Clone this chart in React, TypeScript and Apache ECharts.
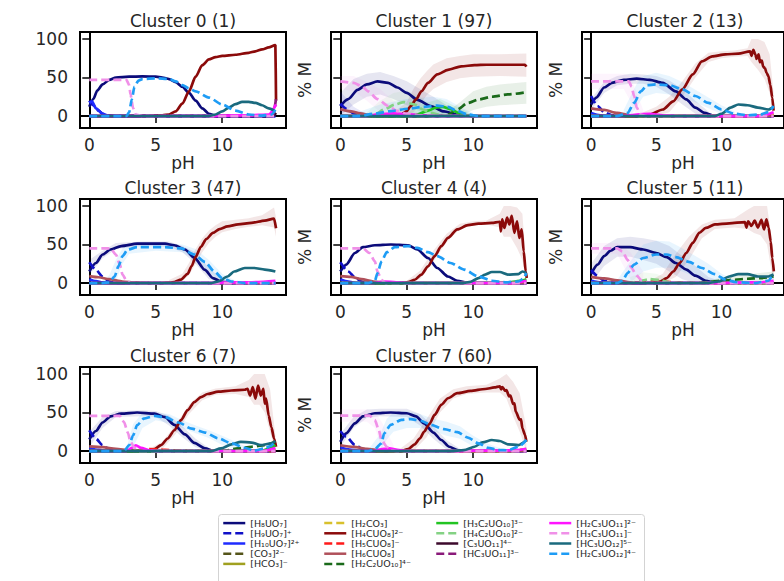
import { useEffect, useRef } from 'react';
import * as echarts from 'echarts';

type P = [number, number];
type B = [number, number, number];

// ---------- axis ticks ----------
const X_TICKS = [0, 5, 10];
const Y_TICKS = [0, 50, 100];

// ---------- species ----------
const SPECIES_KEYS = ['H8UO7', 'H9UO7', 'H10UO7', 'CO3', 'HCO3', 'H2CO3', 'H4CUO8', 'H5CUO8', 'H6CUO8', 'H2C2UO10', 'H3C2UO10', 'H4C2UO10', 'C3UO11', 'HC3UO11', 'H2C3UO11', 'H3C3UO11', 'HC3UO12', 'H2C3UO12'];
const SPECIES_NAMES = ['[H₈UO₇]', '[H₉UO₇]⁺', '[H₁₀UO₇]²⁺', '[CO₃]²⁻', '[HCO₃]⁻', '[H₂CO₃]', '[H₄CUO₈]²⁻', '[H₅CUO₈]⁻', '[H₆CUO₈]', '[H₂C₂UO₁₀]⁴⁻', '[H₃C₂UO₁₀]³⁻', '[H₄C₂UO₁₀]²⁻', '[C₃UO₁₁]⁴⁻', '[HC₃UO₁₁]³⁻', '[H₂C₃UO₁₁]²⁻', '[H₃C₃UO₁₁]⁻', '[HC₃UO₁₂]⁵⁻', '[H₂C₃UO₁₂]⁴⁻'];
const SPECIES_COLORS = ['#0b0b7a', '#1010c8', '#1f2bff', '#55551a', '#a0a020', '#d8c02c', '#8b0a0a', '#ff1a1a', '#b0505a', '#1a6a1a', '#22c422', '#84d284', '#3c0a2c', '#8a1a7a', '#ff14ff', '#f090e8', '#1a6a7e', '#1e9cf5'];
const SPECIES_DASHED = [false, true, false, true, false, true, false, true, false, true, false, true, false, true, false, true, false, true];

// ---------- Cluster 0 (1) ----------
const C0_H8UO7: P[] = [[0, 12], [0.3, 22], [0.6, 33], [1, 41], [1.5, 47], [2, 50], [3, 51], [4, 51.5], [5, 51], [5.5, 50], [6, 48], [6.5, 44], [7, 38], [7.5, 30], [8, 20], [8.5, 10], [9, 3], [9.5, 0.5], [10, 0], [14, 0]];
const C0_H9UO7: P[] = [[0, 20], [0.3, 14], [0.7, 7], [1, 3], [1.5, 0.5], [2, 0], [14, 0]];
const C0_H10UO7: P[] = [[0, 17], [0.2, 19], [0.5, 10], [1, 3], [1.5, 0], [14, 0]];
const C0_H4CUO8: P[] = [[0, 0], [4.5, 0], [5.5, 1], [6, 2], [6.5, 6], [7, 16], [7.5, 32], [8, 51], [8.5, 66], [9, 73.5], [9.5, 76.5], [10, 78], [11, 79.5], [12, 82], [12.5, 84], [13, 86.5], [13.5, 89], [14, 92], [14.05, 20]];
const C0_C3UO11: P[] = [[0, 0], [13.8, 0], [14.05, 4]];
const C0_HC3UO11: P[] = [[0, 0], [13.8, 0.5], [14.05, 22]];
const C0_H2C3UO11: P[] = [[0, 0], [9, 0], [10, 0.5], [12, 1], [13.5, 2], [14.05, 15]];
const C0_H3C3UO11: P[] = [[0, 47], [2.8, 47], [3, 40], [3.1, 28], [3.3, 10], [3.5, 2], [4, 0], [14, 0]];
const C0_HC3UO12: P[] = [[0, 0], [9, 0], [9.5, 2], [10, 6], [10.5, 11], [11, 15.5], [11.5, 18.5], [12, 18.5], [12.5, 17], [13, 14], [13.5, 10], [14, 6]];
const C0_H2C3UO12: P[] = [[0, 0], [2.8, 0], [3.0, 5], [3.2, 22], [3.4, 38], [3.7, 46], [4, 48], [5, 49], [6, 48], [6.5, 45], [7, 40], [7.5, 36], [8, 32], [9, 24], [10, 15], [11, 7], [12, 2], [13, 0.5], [13.7, 2], [14, 8]];

// ---------- Cluster 1 (97) ----------
const C1_H8UO7: P[] = [[0, 13], [0.6, 22], [1.3, 34], [2, 41], [2.8, 45], [3.6, 43], [4.3, 37], [5, 30], [5.8, 21], [6.8, 13], [7.8, 6], [8.8, 2], [10, 0], [14, 0]];
const C1_H9UO7: P[] = [[0, 16], [0.5, 9], [1, 3.5], [1.5, 1], [2, 0], [14, 0]];
const C1_H4CUO8: P[] = [[0, 0], [4, 0], [4.6, 2], [5, 6.5], [5.3, 13], [5.7, 21.5], [6.1, 32], [6.6, 43], [7.3, 54], [8.1, 60], [9.1, 64.5], [10.1, 66], [11, 66.5], [12, 66.5], [13, 66.5], [13.9, 66.5], [14, 64]];
const C1_H6CUO8: P[] = [[0, 9], [0.8, 6], [1.5, 3.5], [2.3, 1], [3, 0], [14, 0]];
const C1_H2C2UO10: P[] = [[0, 0], [7.5, 0], [8.1, 2], [8.8, 8.5], [9.6, 17], [10.4, 21.5], [11.4, 25], [12.6, 28], [14, 31]];
const C1_H3C2UO10: P[] = [[0, 0], [5, 0], [5.8, 2], [6.6, 7], [7.2, 11], [7.7, 12], [8.3, 9], [8.9, 4], [9.5, 1], [10.3, 0], [14, 0]];
const C1_H4C2UO10: P[] = [[0, 0], [2, 0], [2.6, 2], [3.3, 8.5], [4.1, 15], [4.8, 18], [5.6, 15], [6.2, 8.5], [6.8, 4], [7.6, 1], [8.5, 0], [14, 0]];
const C1_H2C3UO11: P[] = [[0, 0], [2, 0], [3, 2.5], [4, 3.5], [5, 2.5], [6, 1], [7, 0], [14, 0]];
const C1_H3C3UO11: P[] = [[0, 45], [1, 43], [1.6, 39], [2.1, 32], [2.8, 22], [3.6, 13], [4.3, 6.5], [5, 3], [6, 1], [7, 0], [14, 0]];
const C1_HC3UO12: P[] = [[0, 0], [14, 0]];
const C1_H2C3UO12: P[] = [[0, 0], [1.3, 0], [2.6, 3], [3.8, 6.5], [5.1, 9.5], [6.3, 12], [7.3, 13.5], [8.1, 12], [8.8, 6.5], [9.6, 2], [10.4, 0], [14, 0]];
const C1_BAND_H4CUO8: B[] = [[0, 0, 2], [4, 0, 5], [5, 0, 18], [5.5, 5, 35], [6, 15, 48], [6.5, 27, 58], [7, 35, 67], [8, 44, 75], [9, 49, 78], [10, 51, 80], [12, 52, 80], [14, 51, 81]];
const C1_BAND_H8UO7: B[] = [[0, 0, 30], [1, 15, 48], [2, 25, 55], [3, 28, 57], [4, 22, 52], [5, 14, 45], [6, 6, 35], [7, 2, 25], [8, 0, 14], [9, 0, 6], [10, 0, 2]];
const C1_BAND_H9UO7: B[] = [[0, 0, 32], [1, 0, 12], [2, 0, 2]];
const C1_BAND_H3C3UO11: B[] = [[0, 35, 52], [1, 32, 52], [2, 20, 44], [3, 5, 35], [4, 0, 20], [5, 0, 10], [6, 0, 4]];
const C1_BAND_H4C2UO10: B[] = [[2, 0, 5], [3, 0, 20], [4, 3, 30], [5, 5, 33], [6, 0, 25], [7, 0, 12], [8, 0, 4]];
const C1_BAND_H2C2UO10: B[] = [[8, 0, 5], [9, 0, 18], [10, 8, 32], [11, 12, 38], [12, 14, 41], [14, 16, 44]];
const C1_BAND_H2C3UO12: B[] = [[1, 0, 3], [3, 0, 15], [5, 0, 22], [7, 2, 25], [8, 2, 22], [9, 0, 12], [10, 0, 4]];
const C1_BAND_H3C2UO10: B[] = [[5, 0, 4], [6, 0, 15], [7.5, 2, 22], [9, 0, 10], [10, 0, 2]];

// ---------- Cluster 2 (13) ----------
const C2_H8UO7: P[] = [[0, 15], [0.4, 24], [1, 37], [1.6, 43], [2.5, 47], [3.5, 48.5], [4.5, 47], [5.5, 43], [6.5, 32], [7.3, 21.5], [8, 11], [8.7, 4], [9.3, 1], [10, 0], [14, 0]];
const C2_H9UO7: P[] = [[0, 26], [0.5, 13], [1, 5], [1.6, 1], [2.2, 0], [14, 0]];
const C2_H10UO7: P[] = [[0, 4], [0.7, 1], [1.5, 0], [14, 0]];
const C2_CO3: P[] = [[0, 0], [13.5, 0], [14, 1]];
const C2_HCO3: P[] = [[0, 0], [13, 0], [14, 1.5]];
const C2_H2CO3: P[] = [[0, 0], [12.5, 0], [13.5, 1], [14, 2]];
const C2_H4CUO8: P[] = [[0, 0], [3.5, 0], [4.5, 2], [5.5, 8.5], [6.3, 19], [7, 34.5], [7.8, 54], [8.5, 71], [9.3, 77.5], [10.3, 80], [11.3, 81], [12.2, 84], [12.3, 78], [12.45, 86], [12.6, 80], [12.7, 74], [12.85, 80], [12.95, 70], [13.1, 72], [13.2, 64], [13.35, 62], [13.45, 56], [13.6, 52], [13.75, 40], [13.9, 24], [14, 7]];
const C2_H6CUO8: P[] = [[0, 10], [1, 8], [2, 4], [3, 1], [4, 0], [14, 0]];
const C2_H2C3UO11: P[] = [[0, 0], [2.5, 0], [3.5, 2], [4.5, 3], [5.5, 1], [6.5, 0], [13, 0], [14, 5]];
const C2_H3C3UO11: P[] = [[0, 45], [2.9, 45], [3.1, 38], [3.3, 26], [3.5, 11], [3.8, 2], [4.2, 0], [14, 0]];
const C2_HC3UO12: P[] = [[0, 0], [9.5, 0], [10, 3], [10.7, 11], [11.3, 15], [12, 14], [12.8, 11], [13.6, 8.5], [14, 12]];
const C2_H2C3UO12: P[] = [[0, 0], [2, 0], [2.8, 4], [3.3, 17], [3.8, 32], [4.3, 40], [5, 41], [6, 40], [7, 34.5], [8, 26], [9, 17], [10, 8.5], [11, 3], [12, 1], [13, 2], [13.6, 5], [14, 13]];
const C2_BAND_H4CUO8: B[] = [[4, 0, 5], [5, 0, 12], [6, 5, 25], [7, 25, 45], [8, 50, 68], [9, 70, 82], [10, 75, 84], [11, 77, 85], [12, 78, 88], [12.3, 70, 100], [12.8, 60, 100], [13.3, 48, 96], [13.7, 30, 80], [14, 0, 30]];
const C2_BAND_H8UO7: B[] = [[0, 8, 22], [1, 30, 44], [2, 40, 52], [3, 42, 55], [4, 42, 54], [5, 38, 52], [6, 28, 46], [7, 15, 35], [8, 3, 20], [9, 0, 6]];
const C2_BAND_H2C3UO12: B[] = [[2.5, 0, 8], [3, 0, 25], [3.5, 12, 42], [4, 25, 52], [5, 30, 56], [6, 28, 52], [7, 24, 44], [8, 18, 34], [9, 10, 24], [10, 3, 14], [11, 0, 6]];
const C2_BAND_H3C3UO11: B[] = [[0, 35, 55], [2.5, 35, 55], [3, 20, 52], [3.5, 0, 30], [4, 0, 8]];

// ---------- Cluster 3 (47) ----------
const C3_H8UO7: P[] = [[0, 15], [0.5, 26], [1, 37], [1.6, 43.5], [2.4, 48], [3.6, 51], [5.7, 51], [6.4, 49], [7.2, 43.5], [7.9, 33], [8.7, 17], [9.3, 6.5], [9.9, 2], [10.7, 0], [14, 0]];
const C3_H9UO7: P[] = [[0, 27], [0.5, 17], [1, 8.5], [1.5, 2], [1.9, 0], [14, 0]];
const C3_H10UO7: P[] = [[0, 5], [0.5, 2.5], [1, 1], [1.6, 0], [14, 0]];
const C3_H4CUO8: P[] = [[0, 0], [5.5, 0], [6.4, 1.3], [6.9, 4.5], [7.4, 12], [7.7, 22], [8, 34], [8.4, 47], [8.8, 57], [9.3, 65], [9.8, 70], [10.4, 73.5], [11.2, 76], [12.2, 78], [13.2, 81], [13.9, 83.5], [14.05, 71]];
const C3_H6CUO8: P[] = [[0, 9], [0.7, 7.5], [1.5, 5], [2.5, 2], [3.5, 0.5], [4.5, 0], [14, 0]];
const C3_H2C3UO11: P[] = [[0, 0], [9, 0], [10, 0.5], [12, 1], [14, 3]];
const C3_H3C3UO11: P[] = [[0, 45], [1.6, 45], [2, 37], [2.3, 24], [2.5, 11], [2.8, 3], [3.1, 0], [14, 0]];
const C3_HC3UO12: P[] = [[0, 0], [9.2, 0], [9.7, 2], [10.4, 8.5], [10.9, 15], [11.7, 19.5], [12.4, 19.5], [13.2, 17.5], [14, 15]];
const C3_H2C3UO12: P[] = [[0, 0], [1, 0], [1.5, 1], [1.9, 8.5], [2.2, 22], [2.5, 35], [2.9, 43.5], [3.6, 46.5], [5.7, 46.5], [6.9, 45], [7.9, 37], [8.7, 27.5], [9.4, 15], [10, 6.5], [10.7, 2], [11.7, 0], [14, 0]];
const C3_BAND_H4CUO8: B[] = [[6, 0, 4], [7, 3, 12], [7.5, 10, 26], [8, 25, 44], [8.5, 40, 58], [9, 52, 68], [9.5, 60, 75], [10, 66, 80], [11, 70, 82], [12, 73, 84], [13, 75, 88], [13.9, 72, 98], [14.05, 60, 85]];
const C3_BAND_H8UO7: B[] = [[0, 10, 30], [1, 32, 42], [2, 44, 52], [4, 48, 54], [6, 47, 54], [7, 40, 48], [8, 25, 40], [9, 5, 20], [10, 0, 5]];
const C3_BAND_H2C3UO12: B[] = [[1, 0, 3], [1.5, 0, 10], [2, 2, 30], [2.5, 25, 45], [3, 38, 50], [5, 42, 51], [7, 40, 50], [8, 30, 44], [9, 14, 30], [10, 2, 12], [11, 0, 3]];

// ---------- Cluster 4 (4) ----------
const C4_H8UO7: P[] = [[0, 15], [0.45, 24], [1.1, 39], [1.7, 46.5], [2.6, 49], [3.8, 50], [5.1, 49], [5.8, 43.5], [6.6, 32.5], [7.3, 19.5], [8.1, 8.5], [8.8, 3], [9.6, 0], [14, 0]];
const C4_H9UO7: P[] = [[0, 27], [0.6, 15], [1.1, 7.5], [1.6, 2], [2.1, 0], [14, 0]];
const C4_H10UO7: P[] = [[0, 5], [0.6, 2], [1.2, 0], [14, 0]];
const C4_H2CO3: P[] = [[0, 0], [13, 0], [14, 2]];
const C4_H4CUO8: P[] = [[0, 0], [4.6, 0], [5.1, 1.3], [5.6, 4.3], [6.1, 11], [6.6, 21.5], [7.1, 35], [7.6, 48], [8.1, 58.5], [8.8, 69.5], [9.6, 75], [10.4, 77], [11.4, 78], [12, 79.5], [12.08, 67], [12.18, 82.5], [12.35, 71.5], [12.55, 85], [12.72, 76], [12.9, 87], [13.1, 65], [13.3, 80], [13.47, 58.5], [13.65, 69.5], [13.8, 41], [13.95, 15], [14.03, 6.5]];
const C4_H6CUO8: P[] = [[0, 9], [0.8, 8], [1.6, 5], [2.5, 2], [3.5, 0.5], [4.5, 0], [14, 0]];
const C4_H3C2UO10: P[] = [[0, 0], [12.5, 0], [13.5, 3], [14, 5]];
const C4_H2C3UO11: P[] = [[0, 0], [2.5, 0], [3.3, 2], [4.2, 1], [5, 0], [13, 0], [14, 3]];
const C4_H3C3UO11: P[] = [[0, 45], [1.7, 45], [2.2, 39], [2.6, 28], [2.8, 15], [3.1, 4], [3.4, 0], [14, 0]];
const C4_HC3UO12: P[] = [[0, 0], [9.2, 0], [9.8, 1.5], [10.4, 6.5], [10.9, 11], [11.4, 14.3], [12, 14.3], [12.6, 11], [13.4, 11.7], [13.7, 15], [14, 13]];
const C4_H2C3UO12: P[] = [[0, 0], [2.1, 0], [2.6, 3], [2.8, 13], [3.1, 28], [3.5, 40], [4.1, 46.5], [5.1, 48], [5.8, 45.5], [6.6, 40], [7.3, 35], [8.3, 26], [9.3, 17.5], [10.4, 8.5], [11.4, 3], [12.4, 1], [13.4, 2], [13.8, 6], [14, 13]];
const C4_BAND_H4CUO8: B[] = [[5, 0, 3], [6, 5, 16], [7, 28, 42], [8, 53, 64], [9, 70, 77], [10, 75, 80], [11, 76, 81], [12, 72, 90], [12.3, 60, 100], [12.8, 60, 100], [13.3, 45, 98], [13.7, 30, 90], [14, 0, 20]];

// ---------- Cluster 5 (11) ----------
const C5_H8UO7: P[] = [[0, 12], [0.5, 24], [1, 35], [1.5, 42], [2, 46.5], [3, 46.5], [4, 43.5], [5, 39], [5.8, 33.5], [6.5, 26], [7.3, 17.5], [8, 9.5], [8.8, 3], [9.5, 0], [14, 0]];
const C5_H9UO7: P[] = [[0, 17], [0.5, 9], [1, 3], [1.5, 0.5], [2, 0], [14, 0]];
const C5_H10UO7: P[] = [[0, 3], [0.8, 1], [1.5, 0], [14, 0]];
const C5_H4CUO8: P[] = [[0, 0], [4.5, 0], [5.3, 2], [5.8, 6.5], [6.3, 15], [6.8, 26], [7.3, 39], [7.8, 52], [8.3, 65], [8.8, 71.5], [9.5, 76], [10.6, 77.5], [11.8, 79], [11.92, 72], [12.05, 80], [12.3, 74], [12.55, 81], [12.8, 72], [13.07, 82], [13.27, 69.5], [13.45, 82.5], [13.62, 72], [13.78, 54], [13.9, 32.5], [14.02, 15]];
const C5_H5CUO8: P[] = [[0, 0], [3.5, 0], [4.3, 2.5], [5, 3], [5.7, 2], [6.5, 0.5], [7.5, 0], [14, 0]];
const C5_H6CUO8: P[] = [[0, 8], [1, 6], [2, 3.5], [3, 1], [4, 0], [14, 0]];
const C5_H2C2UO10: P[] = [[0, 0], [8, 0], [9, 1.3], [10, 3], [11, 4.3], [12, 5.6], [13, 6.5], [14, 8.5]];
const C5_H4C2UO10: P[] = [[0, 0], [3, 0], [3.8, 3], [4.5, 5], [5.2, 4], [6, 1], [6.8, 0], [14, 0]];
const C5_H2C3UO11: P[] = [[0, 0], [10, 0], [11, 0.5], [13, 1], [14, 3]];
const C5_H3C3UO11: P[] = [[0, 45], [2, 45], [2.4, 41], [2.8, 30], [3.1, 19.5], [3.5, 9.5], [3.9, 3], [4.3, 0], [14, 0]];
const C5_HC3UO12: P[] = [[0, 0], [9, 0], [9.8, 2], [10.6, 8.5], [11.3, 11.5], [12, 11.5], [12.8, 8.5], [13.6, 8.5], [14, 11]];
const C5_H2C3UO12: P[] = [[0, 0], [2, 0], [2.4, 3], [2.8, 13], [3.3, 24], [4, 32.5], [5, 37], [5.8, 37], [6.5, 33.5], [7.5, 27.5], [8.5, 19.5], [9.5, 11.5], [10.3, 4.3], [11.1, 1.3], [12.6, 0], [13.6, 3], [14, 13]];
const C5_BAND_H8UO7: B[] = [[0, 0, 25], [1, 22, 48], [2, 34, 58], [3, 34, 60], [4, 30, 58], [5, 25, 55], [6, 15, 48], [7, 5, 35], [8, 0, 22], [9, 0, 8], [10, 0, 2]];
const C5_BAND_H2C3UO12: B[] = [[2, 0, 4], [3, 0, 28], [4, 15, 50], [5, 20, 55], [6, 20, 54], [7, 15, 45], [8, 8, 35], [9, 0, 25], [10, 0, 12], [11, 0, 4]];
const C5_BAND_H4CUO8: B[] = [[4.5, 0, 3], [5.5, 0, 12], [6.5, 8, 38], [7.5, 30, 60], [8.5, 58, 76], [9.5, 70, 82], [11, 72, 84], [12, 70, 95], [12.5, 65, 100], [13, 62, 100], [13.5, 50, 100], [14, 0, 40]];
const C5_BAND_H3C3UO11: B[] = [[0, 38, 52], [2, 38, 52], [3, 5, 40], [4, 0, 15]];
const C5_BAND_H4C2UO10: B[] = [[3, 0, 8], [4, 0, 14], [5, 0, 12], [6, 0, 5]];
const C5_BAND_H2C2UO10: B[] = [[9, 0, 4], [11, 0, 9], [14, 0, 15]];

// ---------- Cluster 6 (7) ----------
const C6_H8UO7: P[] = [[0, 15], [0.5, 26], [1, 37], [1.6, 45], [2.4, 48.5], [3.6, 50], [4.9, 48.5], [5.7, 44], [6.4, 34], [7.2, 21.5], [7.9, 10.5], [8.7, 3.5], [9.4, 0], [14, 0]];
const C6_H9UO7: P[] = [[0, 27], [0.5, 16], [1, 7.5], [1.5, 2.5], [2, 0], [14, 0]];
const C6_H10UO7: P[] = [[0, 4], [0.7, 1.5], [1.5, 0], [14, 0]];
const C6_H2CO3: P[] = [[0, 0], [12.5, 0], [13.5, 1.5], [14, 3]];
const C6_H4CUO8: P[] = [[0, 0], [4.4, 0], [4.9, 2.6], [5.4, 7.7], [5.9, 16.3], [6.4, 27], [6.9, 40], [7.4, 53], [7.9, 63.5], [8.4, 70], [8.9, 74], [9.7, 77], [10.7, 78.5], [11.7, 79.5], [11.9, 80.7], [12.1, 72], [12.3, 83], [12.5, 68], [12.7, 85], [12.9, 72], [13.1, 80.7], [13.2, 61.5], [13.3, 68], [13.5, 46], [13.7, 31], [13.9, 16.3], [14.05, 5.6]];
const C6_H5CUO8: P[] = [[0, 0], [3.5, 0], [4.5, 2.5], [5.5, 2], [6.5, 0.5], [7.5, 0], [14, 0]];
const C6_H6CUO8: P[] = [[0, 6], [1, 5], [2, 3], [3, 1], [4, 0], [14, 0]];
const C6_H2C2UO10: P[] = [[0, 0], [10, 0], [11.2, 3.4], [12.2, 5.6], [13.2, 7.7], [14, 12]];
const C6_H3C2UO10: P[] = [[0, 0], [13, 0], [13.6, 4], [14, 8]];
const C6_H2C3UO11: P[] = [[0, 0], [2.8, 0], [3.2, 4], [3.5, 7.5], [3.9, 4], [4.5, 1], [5, 0], [13, 0], [14, 4]];
const C6_H3C3UO11: P[] = [[0, 45.5], [2.3, 45.5], [2.6, 38], [2.9, 24], [3.1, 12], [3.4, 4.3], [3.7, 0], [14, 0]];
const C6_HC3UO12: P[] = [[0, 0], [9.2, 0], [9.9, 3.4], [10.7, 8.6], [11.4, 12], [12.2, 11], [12.9, 7.7], [13.7, 10], [14, 13]];
const C6_H2C3UO12: P[] = [[0, 0], [2.6, 0], [3, 7.5], [3.3, 20.5], [3.6, 33.5], [4.1, 42], [4.9, 45.5], [5.7, 44], [6.7, 37], [7.7, 29], [8.7, 24], [9.7, 16.5], [10.7, 10], [11.7, 4.3], [12.4, 0.5], [13.2, 3.4], [13.7, 7], [14, 14]];
const C6_BAND_H4CUO8: B[] = [[4.5, 0, 3], [5.5, 3, 12], [6.5, 22, 34], [7.5, 48, 60], [8.5, 66, 76], [9.5, 73, 81], [11, 74, 84], [12, 70, 92], [12.4, 60, 100], [12.8, 60, 100], [13.2, 50, 100], [13.6, 25, 80], [14, 0, 20]];
const C6_BAND_H8UO7: B[] = [[0, 5, 25], [1, 30, 44], [2, 44, 52], [4, 45, 53], [5, 44, 52], [6, 33, 46], [7, 18, 32], [8, 5, 16], [9, 0, 4]];
const C6_BAND_H2C3UO12: B[] = [[2.8, 0, 4], [3.3, 5, 35], [4, 30, 50], [5, 40, 50], [6, 36, 48], [7, 30, 40], [8, 23, 33], [9, 17, 27], [10, 8, 20], [11, 3, 12], [12, 0, 4]];

// ---------- Cluster 7 (60) ----------
const C7_H8UO7: P[] = [[0, 12], [0.45, 23], [1.1, 36], [1.7, 45], [2.6, 49], [3.8, 50], [5, 49], [5.7, 45], [6.3, 36], [7, 24], [7.6, 14.3], [8.2, 5.6], [8.8, 1.3], [9.3, 0], [14, 0]];
const C7_H9UO7: P[] = [[0, 26], [0.45, 18.5], [1.1, 8], [1.7, 2.5], [2.2, 0], [14, 0]];
const C7_H10UO7: P[] = [[0, 5], [0.7, 2], [1.5, 0.5], [2.5, 0], [14, 0]];
const C7_HCO3: P[] = [[0, 0], [13, 0], [14, 1]];
const C7_H2CO3: P[] = [[0, 0], [12.5, 0], [13.3, 1.5], [14, 2.5]];
const C7_H4CUO8: P[] = [[0, 0], [4.6, 0], [5.1, 2.5], [5.6, 8.7], [6, 16.5], [6.3, 25], [6.7, 35], [7.1, 47], [7.6, 60], [8.1, 68.5], [8.8, 75], [9.8, 78], [10.9, 80.5], [11.6, 82.5], [12, 84], [12.1, 80], [12.2, 83], [12.4, 78], [12.5, 79], [12.7, 71], [12.8, 72], [13, 61], [13.1, 62], [13.2, 51], [13.5, 40.5], [13.6, 41], [13.7, 29.5], [13.9, 21], [14, 12]];
const C7_H6CUO8: P[] = [[0, 7.5], [1, 5.5], [2, 3], [3, 1], [4, 0], [14, 0]];
const C7_H2C3UO11: P[] = [[0, 0], [2.5, 0], [3.3, 3], [3.7, 3.5], [4.3, 1.5], [5, 0], [9, 0], [10, 0.5], [12, 0.5], [13, 1], [14, 3]];
const C7_H3C3UO11: P[] = [[0, 46], [2.2, 46], [2.6, 40], [2.9, 27], [3.1, 14.3], [3.5, 5.6], [3.8, 1], [4.2, 0], [14, 0]];
const C7_HC3UO12: P[] = [[0, 0], [8.3, 0], [9.3, 1.3], [10.1, 5.6], [10.7, 11.3], [11.4, 14.3], [12, 13], [12.6, 8.7], [13.4, 7.8], [14, 14]];
const C7_H2C3UO12: P[] = [[0, 0], [2.1, 0], [2.6, 2.5], [3.1, 10], [3.3, 23], [3.8, 34], [4.6, 40.5], [5.3, 41.5], [6.1, 39], [6.8, 34], [7.8, 28.5], [8.8, 24.5], [9.6, 17.5], [10.4, 10], [11.1, 4.3], [11.9, 1.3], [12.6, 1], [13.4, 5.5], [14, 14.5]];
const C7_BAND_H4CUO8: B[] = [[4.5, 0, 3], [5.5, 0, 16], [6.5, 18, 42], [7.5, 50, 68], [8.5, 68, 80], [9.5, 74, 84], [11, 76, 86], [12, 76, 94], [12.5, 68, 100], [13, 45, 90], [13.5, 25, 75], [14, 0, 30]];
const C7_BAND_H8UO7: B[] = [[0, 5, 22], [1, 30, 44], [2, 43, 54], [3, 45, 55], [5, 44, 55], [6, 33, 48], [7, 16, 32], [8, 2, 14], [9, 0, 3]];
const C7_BAND_H2C3UO12: B[] = [[2.2, 0, 4], [3, 0, 22], [3.5, 15, 42], [4, 25, 50], [5, 30, 52], [6, 30, 48], [7, 26, 42], [8, 20, 38], [9, 16, 32], [10, 6, 20], [11, 0, 10], [12, 0, 4]];
const C7_BAND_H3C3UO11: B[] = [[0, 38, 54], [2, 38, 54], [2.6, 30, 52], [3.2, 0, 35], [4, 0, 8]];

// ---------- tables built from the arrays above ----------
const CLUSTER_TITLES = ['Cluster 0 (1)', 'Cluster 1 (97)', 'Cluster 2 (13)', 'Cluster 3 (47)', 'Cluster 4 (4)', 'Cluster 5 (11)', 'Cluster 6 (7)', 'Cluster 7 (60)'];

const CLUSTER_LINES: Record<string, P[]>[] = [
  { H8UO7: C0_H8UO7, H9UO7: C0_H9UO7, H10UO7: C0_H10UO7, H4CUO8: C0_H4CUO8, C3UO11: C0_C3UO11, HC3UO11: C0_HC3UO11, H2C3UO11: C0_H2C3UO11, H3C3UO11: C0_H3C3UO11, HC3UO12: C0_HC3UO12, H2C3UO12: C0_H2C3UO12 },
  { H8UO7: C1_H8UO7, H9UO7: C1_H9UO7, H4CUO8: C1_H4CUO8, H6CUO8: C1_H6CUO8, H2C2UO10: C1_H2C2UO10, H3C2UO10: C1_H3C2UO10, H4C2UO10: C1_H4C2UO10, H2C3UO11: C1_H2C3UO11, H3C3UO11: C1_H3C3UO11, HC3UO12: C1_HC3UO12, H2C3UO12: C1_H2C3UO12 },
  { H8UO7: C2_H8UO7, H9UO7: C2_H9UO7, H10UO7: C2_H10UO7, CO3: C2_CO3, HCO3: C2_HCO3, H2CO3: C2_H2CO3, H4CUO8: C2_H4CUO8, H6CUO8: C2_H6CUO8, H2C3UO11: C2_H2C3UO11, H3C3UO11: C2_H3C3UO11, HC3UO12: C2_HC3UO12, H2C3UO12: C2_H2C3UO12 },
  { H8UO7: C3_H8UO7, H9UO7: C3_H9UO7, H10UO7: C3_H10UO7, H4CUO8: C3_H4CUO8, H6CUO8: C3_H6CUO8, H2C3UO11: C3_H2C3UO11, H3C3UO11: C3_H3C3UO11, HC3UO12: C3_HC3UO12, H2C3UO12: C3_H2C3UO12 },
  { H8UO7: C4_H8UO7, H9UO7: C4_H9UO7, H10UO7: C4_H10UO7, H2CO3: C4_H2CO3, H4CUO8: C4_H4CUO8, H6CUO8: C4_H6CUO8, H3C2UO10: C4_H3C2UO10, H2C3UO11: C4_H2C3UO11, H3C3UO11: C4_H3C3UO11, HC3UO12: C4_HC3UO12, H2C3UO12: C4_H2C3UO12 },
  { H8UO7: C5_H8UO7, H9UO7: C5_H9UO7, H10UO7: C5_H10UO7, H4CUO8: C5_H4CUO8, H5CUO8: C5_H5CUO8, H6CUO8: C5_H6CUO8, H2C2UO10: C5_H2C2UO10, H4C2UO10: C5_H4C2UO10, H2C3UO11: C5_H2C3UO11, H3C3UO11: C5_H3C3UO11, HC3UO12: C5_HC3UO12, H2C3UO12: C5_H2C3UO12 },
  { H8UO7: C6_H8UO7, H9UO7: C6_H9UO7, H10UO7: C6_H10UO7, H2CO3: C6_H2CO3, H4CUO8: C6_H4CUO8, H5CUO8: C6_H5CUO8, H6CUO8: C6_H6CUO8, H2C2UO10: C6_H2C2UO10, H3C2UO10: C6_H3C2UO10, H2C3UO11: C6_H2C3UO11, H3C3UO11: C6_H3C3UO11, HC3UO12: C6_HC3UO12, H2C3UO12: C6_H2C3UO12 },
  { H8UO7: C7_H8UO7, H9UO7: C7_H9UO7, H10UO7: C7_H10UO7, HCO3: C7_HCO3, H2CO3: C7_H2CO3, H4CUO8: C7_H4CUO8, H6CUO8: C7_H6CUO8, H2C3UO11: C7_H2C3UO11, H3C3UO11: C7_H3C3UO11, HC3UO12: C7_HC3UO12, H2C3UO12: C7_H2C3UO12 },
];

const CLUSTER_BANDS: [string, B[]][][] = [
  [],
  [['H4CUO8', C1_BAND_H4CUO8], ['H8UO7', C1_BAND_H8UO7], ['H9UO7', C1_BAND_H9UO7], ['H3C3UO11', C1_BAND_H3C3UO11], ['H4C2UO10', C1_BAND_H4C2UO10], ['H2C2UO10', C1_BAND_H2C2UO10], ['H2C3UO12', C1_BAND_H2C3UO12], ['H3C2UO10', C1_BAND_H3C2UO10]],
  [['H4CUO8', C2_BAND_H4CUO8], ['H8UO7', C2_BAND_H8UO7], ['H2C3UO12', C2_BAND_H2C3UO12], ['H3C3UO11', C2_BAND_H3C3UO11]],
  [['H4CUO8', C3_BAND_H4CUO8], ['H8UO7', C3_BAND_H8UO7], ['H2C3UO12', C3_BAND_H2C3UO12]],
  [['H4CUO8', C4_BAND_H4CUO8]],
  [['H4CUO8', C5_BAND_H4CUO8], ['H8UO7', C5_BAND_H8UO7], ['H2C3UO12', C5_BAND_H2C3UO12], ['H3C3UO11', C5_BAND_H3C3UO11], ['H4C2UO10', C5_BAND_H4C2UO10], ['H2C2UO10', C5_BAND_H2C2UO10]],
  [['H4CUO8', C6_BAND_H4CUO8], ['H8UO7', C6_BAND_H8UO7], ['H2C3UO12', C6_BAND_H2C3UO12]],
  [['H4CUO8', C7_BAND_H4CUO8], ['H8UO7', C7_BAND_H8UO7], ['H2C3UO12', C7_BAND_H2C3UO12], ['H3C3UO11', C7_BAND_H3C3UO11]],
];

// legend columns (matplotlib ncol=4, column-major)
const LEGEND_COLUMNS = [SPECIES_NAMES.slice(0, 5), SPECIES_NAMES.slice(5, 10), SPECIES_NAMES.slice(10, 14), SPECIES_NAMES.slice(14, 18)];

// ---------- layout ----------
const COL_LEFT = [80, 331, 582];
const ROW_TOP = [32, 199, 367];
const PANEL_W = 206;
const PANEL_H = 96;
const LEGEND_LEFT = [222, 323, 435, 548];
const FONT = 'DejaVu Sans';
const TEXT_COLOR = '#262626';

export default function App() {
  const ref = useRef<HTMLDivElement>(null);

  useEffect(() => {
    const chart = echarts.init(ref.current!, null, { renderer: 'svg' });
    const grids: any[] = [];
    const xAxes: any[] = [];
    const yAxes: any[] = [];
    const series: any[] = [];
    const graphics: any[] = [];

    CLUSTER_TITLES.forEach((title, i) => {
      const col = i % 3;
      const row = Math.floor(i / 3);
      const left = COL_LEFT[col];
      const top = ROW_TOP[row];
      grids.push({ left, top, width: PANEL_W, height: PANEL_H, show: true, borderColor: '#000', borderWidth: 2, backgroundColor: '#fff', containLabel: false });
      xAxes.push({
        type: 'value', gridIndex: i, min: -0.7, max: 14.8,
        name: 'pH', nameLocation: 'middle', nameGap: 26,
        nameTextStyle: { fontSize: 17, color: TEXT_COLOR, fontFamily: FONT },
        axisLine: { show: true, lineStyle: { color: '#000', width: 2 } },
        axisTick: { show: true, customValues: X_TICKS, length: 7, lineStyle: { color: '#000', width: 1.5 } },
        axisLabel: { show: true, customValues: X_TICKS, margin: 8, fontSize: 17, color: TEXT_COLOR, fontFamily: FONT },
        splitLine: { show: false },
      });
      yAxes.push({
        type: 'value', gridIndex: i, min: -15.5, max: 109,
        name: col === 0 ? '' : '% M', nameLocation: 'middle', nameGap: 18, nameRotate: 90,
        nameTextStyle: { fontSize: 17, color: TEXT_COLOR, fontFamily: FONT },
        axisLine: { show: true, lineStyle: { color: '#000', width: 2 } },
        axisTick: { show: true, customValues: Y_TICKS, length: 7, lineStyle: { color: '#000', width: 1.5 } },
        axisLabel: { show: col === 0, customValues: Y_TICKS, margin: 12, fontSize: 17, color: TEXT_COLOR, fontFamily: FONT },
        splitLine: { show: false },
      });
      graphics.push({
        type: 'text', x: left + PANEL_W / 2, y: top - 11.5, silent: true,
        style: { text: title, fill: TEXT_COLOR, font: `17px "${FONT}"`, textAlign: 'center', textVerticalAlign: 'middle' },
      });

      // confidence bands
      CLUSTER_BANDS[i].forEach(([key, band]) => {
        const k = SPECIES_KEYS.indexOf(key);
        series.push({
          type: 'custom', xAxisIndex: i, yAxisIndex: i, silent: true, z: 1, clip: true,
          data: band, encode: { x: 0, y: [1, 2] },
          renderItem: (params: any, api: any) => {
            if (params.dataIndex !== 0) return null;
            const upper = band.map((p) => api.coord([p[0], p[2]]));
            const lower = band.map((p) => api.coord([p[0], p[1]])).reverse();
            return {
              type: 'polygon',
              shape: { points: upper.concat(lower) },
              style: { fill: SPECIES_COLORS[k], opacity: 0.1 },
            };
          },
        });
      });

      // lines
      SPECIES_KEYS.forEach((key, k) => {
        const data = CLUSTER_LINES[i][key];
        if (!data) return;
        series.push({
          type: 'line', name: SPECIES_NAMES[k], xAxisIndex: i, yAxisIndex: i,
          data, showSymbol: false, symbol: 'none', smooth: 0.25, smoothMonotone: 'x',
          silent: true, z: 3,
          lineStyle: { color: SPECIES_COLORS[k], width: 2.7, type: SPECIES_DASHED[k] ? [8, 4] : 'solid', cap: 'butt' },
          itemStyle: { color: SPECIES_COLORS[k] },
        });
      });
    });

    // legend frame
    graphics.push({
      type: 'rect', silent: true, z: -10,
      shape: { x: 218.5, y: 514.5, width: 426, height: 80, r: 3 },
      style: { fill: '#fff', stroke: '#d3d3d3', lineWidth: 1 },
    });

    const legends = LEGEND_COLUMNS.map((names, c) => ({
      orient: 'vertical', left: LEGEND_LEFT[c], top: 518, padding: 0,
      itemWidth: 22, itemHeight: 8, itemGap: 0, selectedMode: false,
      data: names,
      lineStyle: { width: 2.5 },
      itemStyle: { opacity: 0, borderWidth: 0 },
      textStyle: { fontSize: 9.5, lineHeight: 10.2, color: TEXT_COLOR, fontFamily: FONT },
    }));

    chart.setOption({
      animation: false,
      backgroundColor: '#fff',
      grid: grids,
      xAxis: xAxes,
      yAxis: yAxes,
      series,
      legend: legends,
      graphic: graphics,
    });

    return () => chart.dispose();
  }, []);

  return <div ref={ref} style={{ position: 'absolute', left: 0, top: 0, width: 784, height: 581 }} />;
}
